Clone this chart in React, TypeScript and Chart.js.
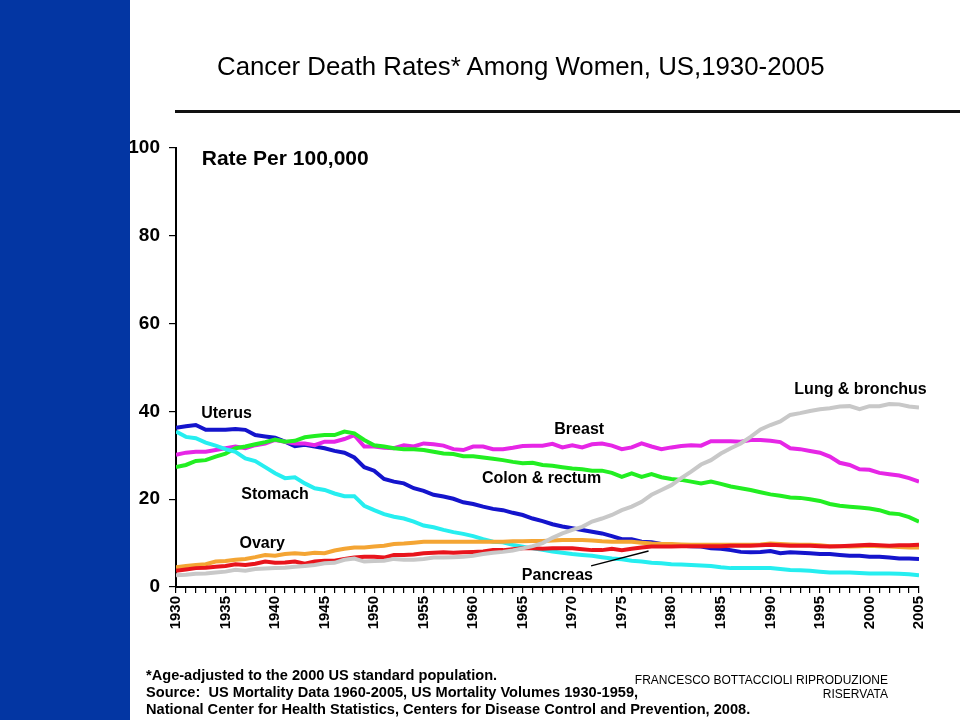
import React, { useEffect, useRef } from "react";
import { Chart, registerables } from "chart.js";

Chart.register(...registerables);

const FONT = '"Liberation Sans", Arial, Helvetica, sans-serif';

const years = [
  1930, 1931, 1932, 1933, 1934, 1935, 1936, 1937, 1938, 1939,
  1940, 1941, 1942, 1943, 1944, 1945, 1946, 1947, 1948, 1949,
  1950, 1951, 1952, 1953, 1954, 1955, 1956, 1957, 1958, 1959,
  1960, 1961, 1962, 1963, 1964, 1965, 1966, 1967, 1968, 1969,
  1970, 1971, 1972, 1973, 1974, 1975, 1976, 1977, 1978, 1979,
  1980, 1981, 1982, 1983, 1984, 1985, 1986, 1987, 1988, 1989,
  1990, 1991, 1992, 1993, 1994, 1995, 1996, 1997, 1998, 1999,
  2000, 2001, 2002, 2003, 2004, 2005,
];

const xTickLabels = [1930, 1935, 1940, 1945, 1950, 1955, 1960, 1965, 1970, 1975, 1980, 1985, 1990, 1995, 2000, 2005];
const yTickValues = [0, 20, 40, 60, 80, 100];

const uterus = [
  36.3, 36.6, 36.9, 35.8, 35.8, 35.8, 36.0, 35.8, 34.6, 34.3,
  34.0, 33.1, 32.1, 32.4, 32.0, 31.6, 31.0, 30.6, 29.5, 27.3,
  26.5, 24.6, 24.0, 23.6, 22.5, 21.9, 21.0, 20.6, 20.1, 19.3,
  18.9, 18.3, 17.8, 17.5, 16.9, 16.4, 15.6, 15.0, 14.3, 13.8,
  13.4, 13.0, 12.6, 12.2, 11.6, 10.9, 10.9, 10.3, 10.2, 9.8,
  9.6, 9.4, 9.3, 9.2, 8.8, 8.7, 8.4, 8.0, 7.9, 8.0,
  8.2, 7.7, 7.9, 7.8, 7.7, 7.5, 7.5, 7.3, 7.1, 7.1,
  6.9, 6.9, 6.7, 6.5, 6.5, 6.4,
];

const breast = [
  30.1, 30.6, 30.8, 30.8, 31.2, 31.6, 32.0, 31.6, 32.3, 32.7,
  33.5, 33.1, 32.7, 32.7, 32.3, 33.1, 33.1, 33.7, 34.6, 32.0,
  32.0, 31.7, 31.6, 32.3, 32.0, 32.7, 32.5, 32.2, 31.4, 31.2,
  32.0, 32.0, 31.4, 31.4, 31.7, 32.1, 32.2, 32.2, 32.6, 31.8,
  32.3, 31.8, 32.5, 32.7, 32.2, 31.4, 31.8, 32.7, 32.0, 31.4,
  31.8, 32.1, 32.3, 32.2, 33.2, 33.2, 33.2, 33.1, 33.5, 33.5,
  33.3, 33.0, 31.6, 31.4, 31.0, 30.6, 29.7, 28.3, 27.8, 26.8,
  26.7, 26.0, 25.7, 25.4, 24.8, 24.0,
];

const colonRectum = [
  27.3, 27.8, 28.7, 28.9, 29.7, 30.4, 31.6, 32.0, 32.5, 33.0,
  33.6, 33.1, 33.3, 34.1, 34.4, 34.6, 34.6, 35.4, 35.0, 33.5,
  32.3, 32.0, 31.6, 31.4, 31.4, 31.2, 30.8, 30.4, 30.3, 29.8,
  29.8, 29.5, 29.2, 28.9, 28.5, 28.2, 28.3, 27.8, 27.6, 27.3,
  27.0, 26.8, 26.5, 26.5, 26.0, 25.1, 25.9, 25.1, 25.7, 25.0,
  24.6, 24.4, 24.0, 23.6, 24.0, 23.5, 22.9, 22.5, 22.1, 21.6,
  21.1, 20.8, 20.4, 20.3, 20.0, 19.6, 18.9, 18.5, 18.3, 18.1,
  17.9, 17.5, 16.8, 16.6, 15.9, 14.9,
];

const stomach = [
  35.4, 34.2, 33.9, 32.9, 32.2, 31.4, 30.8, 29.3, 28.7, 27.3,
  25.9, 24.8, 25.0, 23.6, 22.5, 22.1, 21.3, 20.7, 20.7, 18.5,
  17.5, 16.6, 16.0, 15.6, 14.9, 14.0, 13.6, 13.0, 12.5, 12.1,
  11.6, 10.9, 10.3, 10.2, 9.6, 9.2, 8.8, 8.5, 8.1, 7.8,
  7.5, 7.3, 7.1, 6.8, 6.5, 6.3, 6.0, 5.8, 5.5, 5.4,
  5.2, 5.1, 5.0, 4.9, 4.8, 4.5, 4.3, 4.3, 4.3, 4.3,
  4.3, 4.1, 3.9, 3.8, 3.7, 3.5, 3.3, 3.3, 3.3, 3.2,
  3.1, 3.1, 3.1, 3.0, 2.9, 2.7,
];

const ovary = [
  4.5, 4.8, 5.0, 5.2, 5.8, 5.9, 6.2, 6.4, 6.8, 7.3,
  7.1, 7.5, 7.7, 7.5, 7.8, 7.7, 8.3, 8.7, 9.0, 9.0,
  9.2, 9.4, 9.8, 9.9, 10.1, 10.3, 10.3, 10.3, 10.3, 10.3,
  10.3, 10.3, 10.3, 10.3, 10.4, 10.4, 10.5, 10.5, 10.6, 10.7,
  10.7, 10.7, 10.6, 10.4, 10.3, 10.3, 10.3, 10.1, 9.9, 9.8,
  9.8, 9.7, 9.6, 9.6, 9.6, 9.6, 9.6, 9.6, 9.6, 9.7,
  9.9, 9.8, 9.7, 9.6, 9.6, 9.5, 9.3, 9.3, 9.2, 9.3,
  9.4, 9.3, 9.2, 9.1, 9.0, 9.0,
];

const pancreas = [
  3.7, 4.0, 4.3, 4.4, 4.6, 4.8, 5.2, 5.0, 5.3, 5.8,
  5.5, 5.6, 5.8, 5.3, 5.8, 6.0, 6.0, 6.4, 6.7, 6.9,
  6.9, 6.7, 7.3, 7.3, 7.4, 7.7, 7.8, 7.9, 7.8, 7.9,
  8.0, 8.1, 8.4, 8.4, 8.6, 8.8, 8.8, 8.7, 8.8, 8.8,
  8.8, 8.6, 8.4, 8.4, 8.7, 8.4, 8.7, 9.0, 9.2, 9.2,
  9.2, 9.3, 9.3, 9.3, 9.3, 9.3, 9.4, 9.4, 9.4, 9.5,
  9.6, 9.5, 9.4, 9.4, 9.4, 9.3, 9.2, 9.3, 9.4, 9.5,
  9.6, 9.5, 9.4, 9.5, 9.5, 9.6,
];

const lungBronchus = [
  2.7, 2.8, 3.0, 3.1, 3.3, 3.5, 3.9, 3.7, 4.1, 4.2,
  4.3, 4.4, 4.6, 4.8, 5.0, 5.4, 5.5, 6.2, 6.5, 5.8,
  5.9, 6.0, 6.4, 6.2, 6.2, 6.4, 6.7, 6.7, 6.8, 6.9,
  7.1, 7.5, 7.8, 8.0, 8.3, 8.8, 9.3, 10.0, 11.2, 12.2,
  13.0, 13.7, 14.9, 15.6, 16.4, 17.5, 18.3, 19.4, 21.0, 22.1,
  23.2, 24.8, 26.3, 27.9, 28.9, 30.4, 31.6, 32.7, 34.2, 35.9,
  36.9, 37.7, 39.2, 39.6, 40.1, 40.5, 40.7, 41.1, 41.2, 40.5,
  41.2, 41.2, 41.7, 41.6, 41.1, 40.9,
];

const seriesNames = ["Lung & bronchus", "Pancreas", "Ovary", "Stomach", "Colon & rectum", "Breast", "Uterus"];
const seriesValues = [lungBronchus, pancreas, ovary, stomach, colonRectum, breast, uterus];
const seriesColors = ["#c8c8c8", "#e8141c", "#f4a534", "#26eef0", "#22ee22", "#e626e6", "#1414cc"];

// in-chart text labels, positioned in data coordinates (year, rate)
const labelTexts = ["Uterus", "Stomach", "Ovary", "Breast", "Colon & rectum", "Pancreas", "Lung & bronchus"];
const labelYears = [1935.1, 1940.0, 1938.7, 1970.7, 1966.9, 1968.5, 1999.1];
const labelRates = [39.6, 21.0, 10.0, 35.8, 24.6, 2.7, 44.9];
const pancreasLeaderYears = [1971.9, 1977.7];
const pancreasLeaderRates = [4.8, 8.2];

const unitText = "Rate Per 100,000";
const unitYear = 1932.6;
const unitRate = 97.5;

const titleText = "Cancer Death Rates* Among Women, US,1930-2005";
const footLines = [
  "*Age-adjusted to the 2000 US standard population.",
  "Source:  US Mortality Data 1960-2005, US Mortality Volumes 1930-1959,",
  "National Center for Health Statistics, Centers for Disease Control and Prevention, 2008.",
];
const creditLines = ["FRANCESCO BOTTACCIOLI RIPRODUZIONE", "RISERVATA"];

export default function App() {
  const ref = useRef<HTMLCanvasElement>(null);

  useEffect(() => {
    const canvas = ref.current;
    if (!canvas) return;

    const labelsPlugin = {
      id: "seriesLabels",
      afterDatasetsDraw(chart: any) {
        const { ctx } = chart;
        const xs = chart.scales.x;
        const ys = chart.scales.y;
        ctx.save();
        ctx.fillStyle = "#000";
        ctx.textBaseline = "middle";
        ctx.textAlign = "center";
        ctx.font = `bold 16px ${FONT}`;
        labelTexts.forEach((t, i) => {
          ctx.fillText(t, xs.getPixelForValue(labelYears[i]), ys.getPixelForValue(labelRates[i]));
        });
        ctx.textAlign = "left";
        ctx.font = `bold 21px ${FONT}`;
        ctx.fillText(unitText, xs.getPixelForValue(unitYear), ys.getPixelForValue(unitRate));
        ctx.strokeStyle = "#000";
        ctx.lineWidth = 1.3;
        ctx.beginPath();
        ctx.moveTo(xs.getPixelForValue(pancreasLeaderYears[0]), ys.getPixelForValue(pancreasLeaderRates[0]));
        ctx.lineTo(xs.getPixelForValue(pancreasLeaderYears[1]), ys.getPixelForValue(pancreasLeaderRates[1]));
        ctx.stroke();
        ctx.restore();
      },
    };

    const chart = new Chart(canvas, {
      type: "line",
      data: {
        datasets: seriesNames.map((name, i) => ({
          label: name,
          data: seriesValues[i].map((v, j) => ({ x: years[j], y: v })),
          borderColor: seriesColors[i],
          backgroundColor: seriesColors[i],
          borderWidth: 4,
          pointRadius: 0,
          tension: 0,
          fill: false,
        })),
      },
      options: {
        animation: false,
        responsive: false,
        devicePixelRatio: 1,
        layout: { padding: { left: 0, top: 148, right: 41, bottom: 73 } },
        plugins: {
          legend: { display: false },
          title: { display: false },
          tooltip: { enabled: false },
        },
        scales: {
          x: {
            type: "linear",
            min: years[0],
            max: years[years.length - 1],
            afterFit(scale: any) {
              scale.height = 60;
            },
            afterBuildTicks(scale: any) {
              scale.ticks = years.map((y) => ({ value: y }));
            },
            ticks: {
              stepSize: 1,
              autoSkip: false,
              minRotation: 90,
              maxRotation: 90,
              padding: 3,
              color: "#000",
              font: { family: FONT, size: 15, weight: "bold" },
              callback: (v: any) => (xTickLabels.includes(Number(v)) ? String(v) : ""),
            },
            grid: {
              drawOnChartArea: false,
              drawTicks: true,
              tickLength: 6,
              color: "#000",
              lineWidth: 1.2,
            },
            border: { display: true, color: "#000", width: 2 },
          },
          y: {
            min: 0,
            max: 100,
            afterFit(scale: any) {
              scale.width = 176;
            },
            afterBuildTicks(scale: any) {
              scale.ticks = yTickValues.map((v) => ({ value: v }));
            },
            ticks: {
              stepSize: 20,
              padding: 9,
              color: "#000",
              font: { family: FONT, size: 19, weight: "bold" },
              callback: (v: any) => String(v),
            },
            grid: {
              drawOnChartArea: false,
              drawTicks: true,
              tickLength: 7,
              color: "#000",
              lineWidth: 1.2,
            },
            border: { display: true, color: "#000", width: 2 },
          },
        },
      },
      plugins: [labelsPlugin],
    });

    return () => chart.destroy();
  }, []);

  return (
    <div
      style={{
        position: "absolute",
        left: 0,
        top: 0,
        width: 960,
        height: 720,
        background: "#fff",
        overflow: "hidden",
        fontFamily: FONT,
      }}
    >
      <canvas
        ref={ref}
        width={960}
        height={720}
        style={{ position: "absolute", left: 0, top: 0, width: 960, height: 720 }}
      />
      <div
        style={{
          position: "absolute",
          left: 0,
          top: 0,
          width: 130,
          height: 720,
          background: "#0336a3",
        }}
      />
      <div
        style={{
          position: "absolute",
          left: 217,
          top: 53,
          fontSize: 25.8,
          lineHeight: "26px",
          whiteSpace: "nowrap",
          color: "#000",
        }}
      >
        {titleText}
      </div>
      <div
        style={{
          position: "absolute",
          left: 175,
          top: 110,
          width: 785,
          height: 3,
          background: "#111",
        }}
      />
      <div
        style={{
          position: "absolute",
          left: 146,
          top: 667,
          fontSize: 14.6,
          lineHeight: "17px",
          fontWeight: "bold",
          whiteSpace: "nowrap",
          color: "#000",
        }}
      >
        {footLines.map((l, i) => (
          <div key={i} style={{ whiteSpace: "pre" }}>
            {l}
          </div>
        ))}
      </div>
      <div
        style={{
          position: "absolute",
          left: 560,
          top: 673,
          width: 328,
          fontSize: 12,
          lineHeight: "14px",
          textAlign: "right",
          whiteSpace: "nowrap",
          color: "#000",
        }}
      >
        {creditLines.map((l, i) => (
          <div key={i}>{l}</div>
        ))}
      </div>
    </div>
  );
}
